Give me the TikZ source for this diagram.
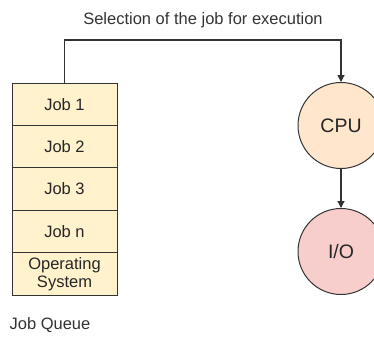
\documentclass[tikz,border=0pt]{standalone}
\usepackage{fontspec}
\setmainfont{Liberation Sans}
\usetikzlibrary{arrows.meta}
\definecolor{jobfill}{HTML}{FFF2CC}
\definecolor{cpufill}{HTML}{FFE6CC}
\definecolor{iofill}{HTML}{F8CECC}
\definecolor{edge}{HTML}{333333}
\begin{document}
\begin{tikzpicture}[x=1pt,y=-1pt,
  font=\fontsize{16.5}{18.5}\selectfont,
  jobbox/.style={draw=edge, line width=1pt, fill=jobfill, minimum width=105pt, minimum height=42.4pt, inner sep=0pt, align=center, text=black!85},
  unit/.style={draw=edge, line width=1pt, fill=#1, circle, minimum size=86pt, inner sep=0pt, text=black!85, font=\fontsize{19.5}{22}\selectfont},
  conn/.style={draw=edge, line width=1.1pt, -{Triangle[length=7pt,width=7pt]}},
  lbl/.style={text=black!80, inner sep=0pt}]
\useasboundingbox (0,0) rectangle (374,337);
\node[jobbox] (j1) at (64.5,104.3) {Job 1};
\node[jobbox] (j2) at (64.5,146.7) {Job 2};
\node[jobbox] (j3) at (64.5,189.1) {Job 3};
\node[jobbox] (jn) at (64.5,231.5) {Job n};
\node[jobbox, minimum height=43pt] (os) at (64.5,274.2) {Operating\\System};
\node[unit=cpufill] (cpu) at (341,125.5) {CPU};
\node[unit=iofill] (io) at (341,251.5) {I/O};
\coordinate (c1) at (64.5,40);
\coordinate (c2) at (341,40);
\draw[conn] (j1.north) -- (c1) -- (c2) -- (cpu.north);
\draw[conn] (cpu.south) -- (io.north);
\node[lbl] (title) at (203,20) {Selection of the job for execution};
\node[lbl] (jq) at (50,325) {Job Queue};
\end{tikzpicture}
\end{document}
